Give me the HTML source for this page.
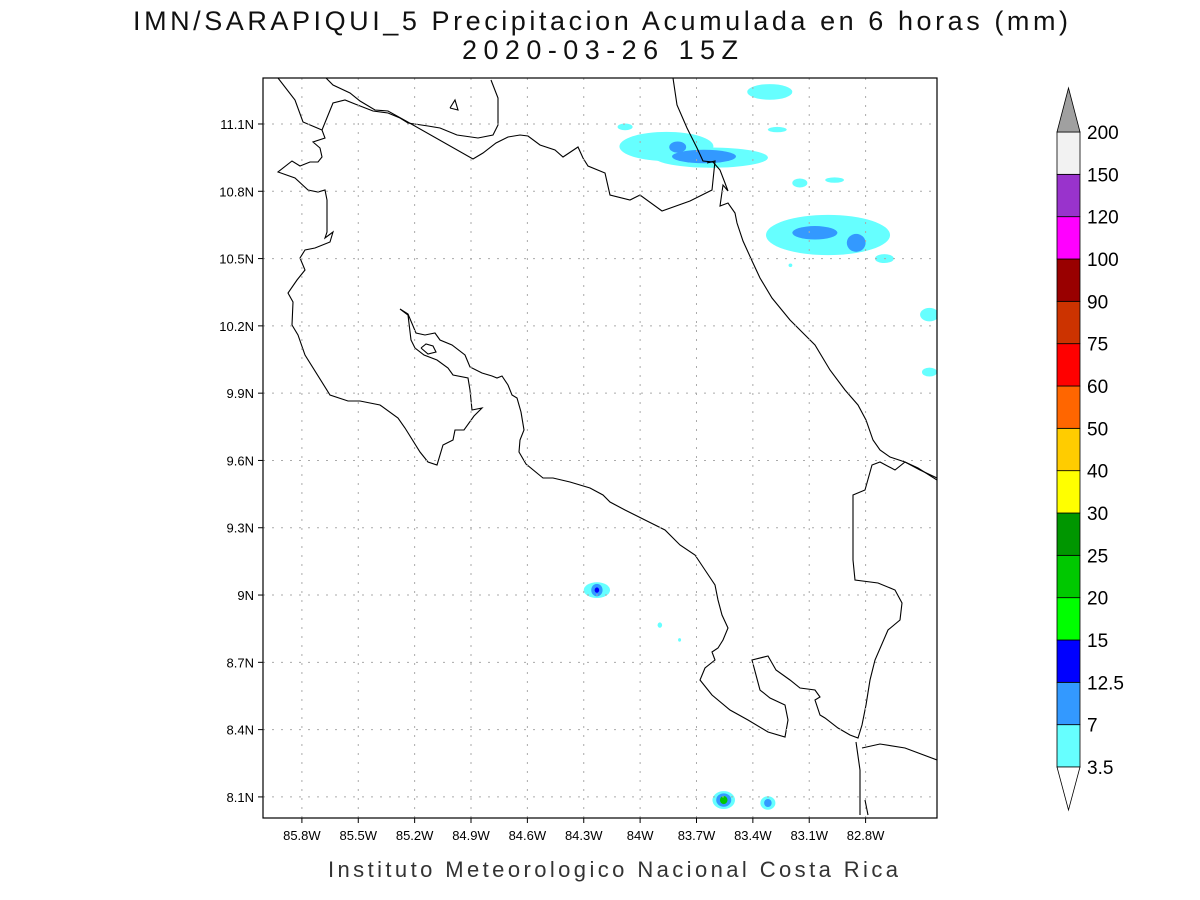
<!DOCTYPE html>
<html><head><meta charset="utf-8"><style>
body{margin:0;background:#fff;}
svg{display:block;font-family:"Liberation Sans",sans-serif;}
</style></head><body>
<svg width="1200" height="900" viewBox="0 0 1200 900">
<rect width="1200" height="900" fill="#fff"/>
<text x="133" y="30" textLength="935" lengthAdjust="spacing" font-size="27" fill="#111">IMN/SARAPIQUI_5 Precipitacion Acumulada en 6 horas (mm)</text>
<text x="462" y="59" textLength="276" lengthAdjust="spacing" font-size="27" fill="#111">2020-03-26 15Z</text>
<g id="plot"></g>
<g id="cbar"></g>
<text x="328" y="877" textLength="570" lengthAdjust="spacing" font-size="22" fill="#333">Instituto Meteorologico Nacional Costa Rica</text>
</svg>
<script>
const lonTicks=[-85.8,-85.5,-85.2,-84.9,-84.6,-84.3,-84.0,-83.7,-83.4,-83.1,-82.8];
const lonLabels=["85.8W","85.5W","85.2W","84.9W","84.6W","84.3W","84W","83.7W","83.4W","83.1W","82.8W"];
const latTicks=[11.1,10.8,10.5,10.2,9.9,9.6,9.3,9.0,8.7,8.4,8.1];
const latLabels=["11.1N","10.8N","10.5N","10.2N","9.9N","9.6N","9.3N","9N","8.7N","8.4N","8.1N"];
const levels=["3.5","7","12.5","15","20","25","30","40","50","60","75","90","100","120","150","200"];
const levelColors=["#66ffff","#3399ff","#0000ff","#00ff00","#00c800","#009600","#ffff00","#ffcc00","#ff6600","#ff0000","#cc3300","#990000","#ff00ff","#9933cc","#f2f2f2"];
// blobs: lon, lat, rx(deg), ry(deg), level index
const blobLon=[-83.86,-83.62,-83.66,-83.80,-84.08,-83.31,-83.27,-83.15,-82.965,-83.0,-83.07,-82.85,-82.70,-82.46,-82.46,-84.23,-84.23,-84.23,-83.895,-83.79,-83.555,-83.555,-83.555,-83.32,-83.32,-83.20];
const blobLat=[11.0,10.95,10.955,10.997,11.087,11.243,11.075,10.837,10.85,10.605,10.615,10.57,10.50,10.25,9.994,9.022,9.022,9.022,8.866,8.80,8.086,8.086,8.086,8.073,8.073,10.47];
const blobRx=[0.25,0.3,0.17,0.045,0.04,0.12,0.05,0.04,0.05,0.33,0.12,0.05,0.05,0.05,0.04,0.07,0.03,0.012,0.012,0.008,0.06,0.04,0.02,0.04,0.02,0.01];
const blobRy=[0.065,0.045,0.03,0.025,0.015,0.035,0.012,0.02,0.012,0.09,0.03,0.04,0.02,0.03,0.02,0.035,0.028,0.012,0.012,0.008,0.04,0.03,0.018,0.03,0.018,0.008];
const blobLvl=[0,0,1,1,0,0,0,0,0,0,1,1,0,0,0,0,1,2,0,0,0,1,4,0,1,0];

const NS="http://www.w3.org/2000/svg";
const L=263,R=937,T=78,B=818;
const lon0=-86.007,lon1=-82.42,lat0=8.006,lat1=11.305;
const X=lo=>L+(lo-lon0)/(lon1-lon0)*(R-L);
const Y=la=>B-(la-lat0)/(lat1-lat0)*(B-T);
function mk(tag,attrs,parent){const e=document.createElementNS(NS,tag);for(const k in attrs)e.setAttribute(k,attrs[k]);parent.appendChild(e);return e;}
const plot=document.getElementById('plot');
const defs=mk('defs',{},plot);
const cp=mk('clipPath',{id:'clip'},defs);mk('rect',{x:L,y:T,width:R-L,height:B-T},cp);
const bg=mk('g',{'clip-path':'url(#clip)'},plot);
blobLon.forEach((lo,i)=>{
 const e=mk('ellipse',{cx:X(lo),cy:Y(blobLat[i]),rx:blobRx[i]*188,ry:blobRy[i]*224,fill:levelColors[blobLvl[i]]},bg);
 
 
});
lonTicks.forEach((v,i)=>{
 const x=X(v);
 const g=mk('line',{x1:x,y1:T,x2:x,y2:B,stroke:'#aaa','stroke-dasharray':'2,7'},plot);
 
 mk('line',{x1:x,y1:B,x2:x,y2:B+5,stroke:'#000'},plot);
 const t=mk('text',{x:x,y:B+22,'text-anchor':'middle','font-size':13},plot);t.textContent=lonLabels[i];
 
});
latTicks.forEach((v,i)=>{
 const y=Y(v);
 const g=mk('line',{x1:L,y1:y,x2:R,y2:y,stroke:'#aaa','stroke-dasharray':'2,7'},plot);
 
 mk('line',{x1:L-5,y1:y,x2:L,y2:y,stroke:'#000'},plot);
 const t=mk('text',{x:L-9,y:y+5,'text-anchor':'end','font-size':13},plot);t.textContent=latLabels[i];
 
});
const coasts=[
"278,78 295,100 303,122 322,130 325,138 313,142 320,148 322,157 318,162 310,162 300,166 292,161 278,172 295,178 308,190 318,192 325,190 327,200 327,232 325,238 333,232 330,242 315,248 305,250 300,258 305,270 297,280 288,293 293,302 292,325 298,335 305,355 330,395 348,401 360,401 380,405 398,418 405,428 420,452 428,462 437,465 443,445 453,440 455,430 464,430 474,416 482,408 472,410 470,390 468,378 453,375 448,368 437,360 424,355 415,348 411,340 408,315 400,309 408,314 416,333 425,335 435,333 440,340 452,345 465,355 470,367 482,373 492,376 497,378 502,376 508,385 512,395 517,398 521,412 524,430 520,440 519,452 526,464 543,478 553,478 570,482 590,488 603,495 610,502 625,510 645,520 665,530 680,545 695,555 705,570 715,585 718,600 722,615 728,628 723,640 718,648 712,652 715,660 705,668 700,680 712,695 730,710 748,720 768,732 785,737 788,720 785,705 770,698 760,690 752,660 768,656 776,670 790,680 800,688 815,690 820,697 815,700 820,715 825,718 838,728 850,735 858,738 862,725 866,705 870,680 875,660 888,630 900,620 902,603 895,590 878,583 855,580 853,560 853,495 865,490 872,465 880,462 895,470 905,462 918,468 937,480",
"322,130 333,103 345,100 355,104 373,111 388,113 400,118 408,123 428,126 440,128 457,135 478,138 493,135 498,125 498,98 491,80",
"326,78 333,85 350,93 360,101 375,110 388,111 406,121 473,159 483,153 496,143 508,137 520,135 528,136 540,145 555,150 563,157 578,147 583,158 588,166 605,173 610,195 630,200 640,195 662,211 690,201 712,190 715,161 707,163",
"673,78 677,105 687,128 697,148 703,161 713,162 720,170 725,183 728,191 723,185 720,206 728,203 735,213 737,223 743,241 753,263 760,278 772,298 790,320 805,335 815,345 830,370 845,390 858,405 866,420 873,440 880,450 890,457 905,462 920,470 937,478",
"450,108 455,100 458,110 450,108",
"421,348 426,344 433,346 436,352 428,354 421,348",
"856,742 860,770 860,815",
"865,800 868,815",
"862,748 880,744 905,748 937,760"];
coasts.forEach(p=>{const e=mk('polyline',{points:p,fill:'none',stroke:'#000','stroke-width':1.1},bg);
 });
mk('rect',{x:L,y:T,width:R-L,height:B-T,fill:'none',stroke:'#000','stroke-width':1.2},plot);
const cb=document.getElementById('cbar');
const cx0=1057,cw=23,cTop=132,cBot=767;
const step=(cBot-cTop)/(levels.length-1);
levelColors.forEach((c,i)=>{
 const e=mk('rect',{x:cx0,y:cBot-(i+1)*step,width:cw,height:step,fill:c,stroke:'#000','stroke-width':0.8},cb);
 
});
mk('polygon',{points:`${cx0},${cTop} ${cx0+cw/2},88 ${cx0+cw},${cTop}`,fill:'#a0a0a0',stroke:'#000','stroke-width':0.8},cb);
mk('polygon',{points:`${cx0},${cBot} ${cx0+cw/2},810 ${cx0+cw},${cBot}`,fill:'#fff',stroke:'#000','stroke-width':0.8},cb);
levels.forEach((v,i)=>{
 const t=mk('text',{x:1087,y:cBot-i*step+7,'font-size':19},cb);t.textContent=v;
 
});
</script>
</body></html>
